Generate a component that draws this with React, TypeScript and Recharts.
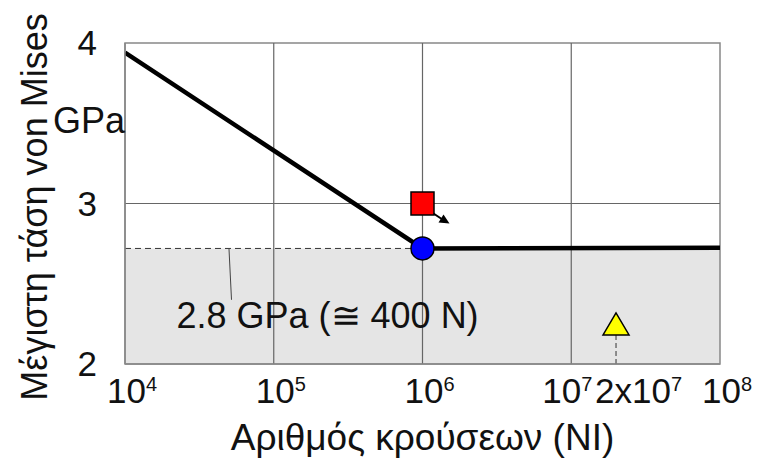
import {
  ComposedChart,
  Line,
  Scatter,
  XAxis,
  YAxis,
  ReferenceLine,
  ReferenceArea,
  ReferenceDot,
} from "recharts";

const FONT = "'Liberation Sans', Arial, Helvetica, sans-serif";

// x: impact count (log), y: max von Mises stress (GPa)
const X_TICKS = [1e4, 1e5, 1e6, 1e7, 2e7, 1e8];
const X_TICK_BASE = ["10", "10", "10", "10", "2x10", "10"];
const X_TICK_EXP = ["4", "5", "6", "7", "7", "8"];
const Y_TICKS = [2, 3, 4];
const GRID_X = [1e5, 1e6, 1e7];
const GRID_Y = [3];

const THRESHOLD = 2.72;

const curve = [
  { n: 1e4, s: 3.94 },
  { n: 1e6, s: 2.72 },
  { n: 1e8, s: 2.725 },
];
const thresholdDash = [
  { n: 1e4, s: 2.72 },
  { n: 1e6, s: 2.72 },
];
const leader = [
  { n: 5e4, s: 2.72 },
  { n: 5.2e4, s: 2.4 },
];
const circlePoints = [{ n: 1e6, s: 2.72 }];
const squarePoints = [{ n: 1e6, s: 3.0 }];
const trianglePoints = [{ n: 2e7, s: 2.25 }];
const triangleDrop = [
  { n: 2e7, s: 2.0 },
  { n: 2e7, s: 2.18 },
];
const labelAnchor = { n: 2.3e5, s: 2.23 };

const XTick = (props: any) => {
  const { x, y, payload } = props;
  const i = X_TICKS.indexOf(payload.value);
  const shift = payload.value === 1e7 ? -29 : payload.value === 2e7 ? -21 : -18;
  return (
    <text x={x + shift} y={y + 39} fontSize={35} fontFamily={FONT} fill="#111">
      {X_TICK_BASE[i]}
      <tspan fontSize={20} dy={-12}>
        {X_TICK_EXP[i]}
      </tspan>
    </text>
  );
};

const YTick = (props: any) => {
  const { x, y, payload } = props;
  return (
    <text x={x} y={y + 12} textAnchor="end" fontSize={35} fontFamily={FONT} fill="#111">
      {payload.value}
    </text>
  );
};

export default function App() {
  return (
    <div style={{ position: "absolute", left: 0, top: 0, background: "#fff" }}>
      <ComposedChart
        width={759}
        height={458}
        margin={{ top: 43, right: 39, left: 0, bottom: 0 }}
      >
        <XAxis
          dataKey="n"
          type="number"
          scale="log"
          domain={[1e4, 1e8]}
          ticks={X_TICKS}
          allowDataOverflow
          height={94}
          tickSize={0}
          tickMargin={0}
          tickLine={false}
          axisLine={{ stroke: "#888", strokeWidth: 1.5 }}
          tick={<XTick />}
          interval={0}
          label={{
            value: "Αριθμός κρούσεων (NI)",
            position: "insideBottom",
            offset: 8,
            fontSize: 37,
            fontFamily: FONT,
            fill: "#111",
          }}
        />
        <YAxis
          dataKey="s"
          type="number"
          domain={[2, 4]}
          ticks={Y_TICKS}
          width={125}
          tickSize={0}
          tickMargin={28}
          tickLine={false}
          axisLine={{ stroke: "#888", strokeWidth: 1.5 }}
          tick={<YTick />}
          label={{
            content: () => (
              <g fontFamily={FONT} fill="#111">
                <text
                  x={47}
                  y={207}
                  transform="rotate(-90, 47, 207)"
                  textAnchor="middle"
                  fontSize={36}
                >
                  Μέγιστη τάση von Mises
                </text>
                <text x={125} y={133} textAnchor="end" fontSize={36}>
                  GPa
                </text>
              </g>
            ),
          }}
        />
        <ReferenceArea
          x1={1e4}
          x2={1e8}
          y1={2}
          y2={THRESHOLD}
          fill="#e5e5e5"
          fillOpacity={1}
          stroke="none"
        />
        {GRID_X.map((v) => (
          <ReferenceLine key={`gx${v}`} x={v} stroke="#666" strokeWidth={1.2} />
        ))}
        {GRID_Y.map((v) => (
          <ReferenceLine key={`gy${v}`} y={v} stroke="#666" strokeWidth={1.2} />
        ))}
        <ReferenceArea
          x1={1e4}
          x2={1e8}
          y1={2}
          y2={4}
          fill="none"
          stroke="#888"
          strokeWidth={1.5}
        />
        <Line
          data={thresholdDash}
          dataKey="s"
          stroke="#333"
          strokeWidth={1}
          strokeDasharray="6 4"
          dot={false}
          isAnimationActive={false}
        />
        <Line
          data={leader}
          dataKey="s"
          stroke="#444"
          strokeWidth={1}
          dot={false}
          isAnimationActive={false}
        />
        <Line
          data={triangleDrop}
          dataKey="s"
          stroke="#333"
          strokeWidth={1}
          strokeDasharray="5 3"
          dot={false}
          isAnimationActive={false}
        />
        <Line
          data={curve}
          dataKey="s"
          stroke="#000"
          strokeWidth={4.5}
          dot={false}
          isAnimationActive={false}
        />
        <Scatter
          data={squarePoints}
          isAnimationActive={false}
          shape={(p: any) => (
            <g>
              <rect
                x={p.cx - 11.5}
                y={p.cy - 11.5}
                width={23}
                height={23}
                fill="#ff0000"
                stroke="#000"
                strokeWidth={1.5}
              />
              <line
                x1={p.cx + 11}
                y1={p.cy + 10}
                x2={p.cx + 20}
                y2={p.cy + 16}
                stroke="#000"
                strokeWidth={2}
              />
              <polygon
                points={`${p.cx + 27},${p.cy + 20} ${p.cx + 16},${p.cy + 19} ${p.cx + 21},${p.cy + 11}`}
                fill="#000"
              />
            </g>
          )}
        />
        <Scatter
          data={circlePoints}
          isAnimationActive={false}
          shape={(p: any) => (
            <circle cx={p.cx} cy={p.cy} r={11.5} fill="#0000ff" stroke="#000" strokeWidth={1.5} />
          )}
        />
        <Scatter
          data={trianglePoints}
          isAnimationActive={false}
          shape={(p: any) => (
            <polygon
              points={`${p.cx},${p.cy - 11} ${p.cx - 13},${p.cy + 11} ${p.cx + 13},${p.cy + 11}`}
              fill="#ffff00"
              stroke="#000"
              strokeWidth={1.5}
            />
          )}
        />
        <ReferenceDot
          x={labelAnchor.n}
          y={labelAnchor.s}
          r={0}
          stroke="none"
          fill="none"
          label={{
            value: "2.8 GPa (≅ 400 N)",
            position: "center",
            fontSize: 36,
            fontFamily: FONT,
            fill: "#111",
            dy: -12,
          }}
        />
      </ComposedChart>
    </div>
  );
}
